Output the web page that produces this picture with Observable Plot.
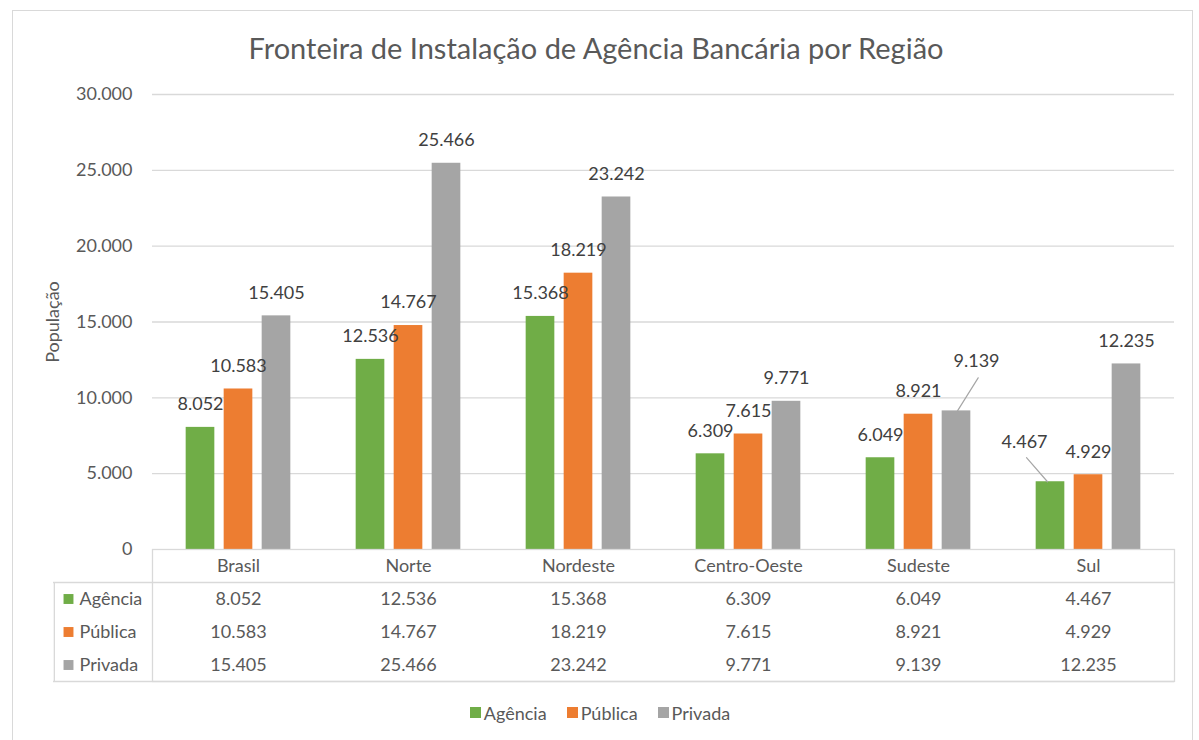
<!DOCTYPE html>
<html><head><meta charset="utf-8">
<script src="https://cdn.jsdelivr.net/npm/d3@7"></script>
<script src="https://cdn.jsdelivr.net/npm/@observablehq/plot@0.6"></script>
<style>
html,body{margin:0;padding:0;background:#fff;width:1199px;height:740px;overflow:hidden;font-family:Lato,"Open Sans",sans-serif;}
#frame{position:absolute;left:12px;top:10px;width:1181px;height:780px;border:1px solid #d9d9d9;box-sizing:border-box;}
#title{position:absolute;left:0;width:1192px;top:31px;line-height:34px;text-align:center;font-size:29px;color:#595959;}
#bars{position:absolute;left:0;top:80px;}
#table{position:absolute;left:0;top:548px;}
#legend{position:absolute;left:0;width:1220px;top:696px;display:flex;justify-content:center;}
.lg-swatch{margin-right:20px !important;}
.lg-swatch > svg{margin-right:3px !important;}
</style></head><body>
<div id="frame"></div>
<div id="title">Fronteira de Instalação de Agência Bancária por Região</div>
<div id="bars"></div>
<div id="table"></div>
<div id="legend"></div>
<script>
// ---- data ----
const regions = ["Brasil", "Norte", "Nordeste", "Centro-Oeste", "Sudeste", "Sul"];
const seriesNames = ["Agência", "Pública", "Privada"];
const agencia = [8052, 12536, 15368, 6309, 6049, 4467];
const publica = [10583, 14767, 18219, 7615, 8921, 4929];
const privada = [15405, 25466, 23242, 9771, 9139, 12235];
const yTicks = [0, 5000, 10000, 15000, 20000, 25000, 30000];
const yLabel = "População";

// ---- style / layout ----
const colors = ["#70AD47", "#ED7D31", "#A5A5A5"];
const W = 1199, mL = 152, mR = 25;
const bw = (W - mL - mR) / regions.length;
const barW = 29, barStep = 38;
const leftColW = 99;
const textColor = "#595959", gridColor = "#d9d9d9";
const font = {fontFamily: "Lato, 'Open Sans', sans-serif", fontSize: "18px", color: textColor, background: "transparent", overflow: "visible"};
// labels Excel moved by hand (with leader lines)
const moved = {
  "Sudeste|Privada": {dx: 20, dy: -50, lx: 1, len: 39, angle: 32},
  "Sul|Agência": {dx: -26, dy: -40, lx: -3, len: 32, angle: -41}
};

const pt = d3.formatLocale({decimal: ",", thousands: ".", grouping: [3], currency: ["R$", ""]});
const fmt = pt.format(",.0f");

const valuesBySeries = [agencia, publica, privada];
const rows = regions.flatMap((r, i) => seriesNames.map((s, j) => ({region: r, series: s, value: valuesBySeries[j][i]})));

const lineShape = {draw(ctx, l) { ctx.moveTo(0, 0); ctx.lineTo(0, -l); }};

const barMarks = [];
seriesNames.forEach((s, j) => {
  const off = (j - 1) * barStep;
  const data = rows.filter(d => d.series === s);
  barMarks.push(Plot.barY(data, {
    x: "region", y: "value", fill: colors[j],
    insetLeft: bw / 2 + off - barW / 2, insetRight: bw / 2 - off - barW / 2
  }));
});
const labelMarks = [];
seriesNames.forEach((s, j) => {
  const off = (j - 1) * barStep;
  const data = rows.filter(d => d.series === s && !moved[d.region + "|" + d.series]);
  labelMarks.push(Plot.text(data, {x: "region", y: "value", text: d => fmt(d.value), dx: off, dy: -23, fill: "#404040"}));
});
Object.entries(moved).forEach(([key, m]) => {
  const [r, s] = key.split("|");
  const j = seriesNames.indexOf(s);
  const off = (j - 1) * barStep;
  const data = rows.filter(d => d.region === r && d.series === s);
  labelMarks.push(Plot.vector(data, {x: "region", y: "value", dx: off + m.lx, length: m.len, rotate: m.angle, anchor: "start", stroke: "#a6a6a6", strokeWidth: 1.2, shape: lineShape}));
  labelMarks.push(Plot.text(data, {x: "region", y: "value", text: d => fmt(d.value), dx: off + m.dx, dy: m.dy, fill: "#404040"}));
});

const bars = Plot.plot({
  width: W, height: 470, marginLeft: mL, marginRight: mR, marginTop: 14, marginBottom: 1,
  style: font,
  x: {type: "band", domain: regions, padding: 0, axis: null},
  y: {domain: [0, 30000], ticks: yTicks, tickFormat: fmt, tickSize: 0, tickPadding: 20,
      label: yLabel, labelAnchor: "center", labelOffset: 106, labelArrow: "none"},
  marks: [
    Plot.ruleY(yTicks.filter(t => t > 0), {stroke: gridColor, strokeWidth: 1.3}),
    ...barMarks,
    ...labelMarks
  ]
});
document.getElementById("bars").append(bars);

const table = Plot.plot({
  width: W, height: 135, marginLeft: mL, marginRight: mR, marginTop: 1, marginBottom: 2,
  style: font,
  x: {type: "band", domain: regions, padding: 0, axis: null},
  y: {domain: [0, 4], reverse: true, axis: null},
  color: {domain: seriesNames, range: colors},
  marks: [
    Plot.frame({stroke: gridColor, strokeWidth: 1.3}),
    Plot.ruleY([1, 4], {stroke: gridColor, strokeWidth: 1.3, insetLeft: -leftColW}),
    Plot.ruleX([regions[0]], {y1: 1, y2: 4, dx: -(bw / 2 + leftColW), stroke: gridColor, strokeWidth: 1.3}),
    Plot.text(regions, {x: d => d, y: 0.5, text: d => d}),
    Plot.text(rows, {x: "region", y: d => 1.5 + seriesNames.indexOf(d.series), text: d => fmt(d.value)}),
    Plot.dot(seriesNames, {y: (d, i) => 1.5 + i, frameAnchor: "left", dx: -84, symbol: "square", r: 5.6, fill: d => d}),
    Plot.text(seriesNames, {y: (d, i) => 1.5 + i, frameAnchor: "left", dx: -73, textAnchor: "start", text: d => d})
  ]
});
document.getElementById("table").append(table);

const legend = Plot.legend({
  color: {domain: seriesNames, range: colors}, legend: "swatches", swatchSize: 11,
  className: "lg", style: {fontFamily: "Lato, 'Open Sans', sans-serif", fontSize: "18px", color: textColor}
});
document.getElementById("legend").append(legend);
</script>
</body></html>
